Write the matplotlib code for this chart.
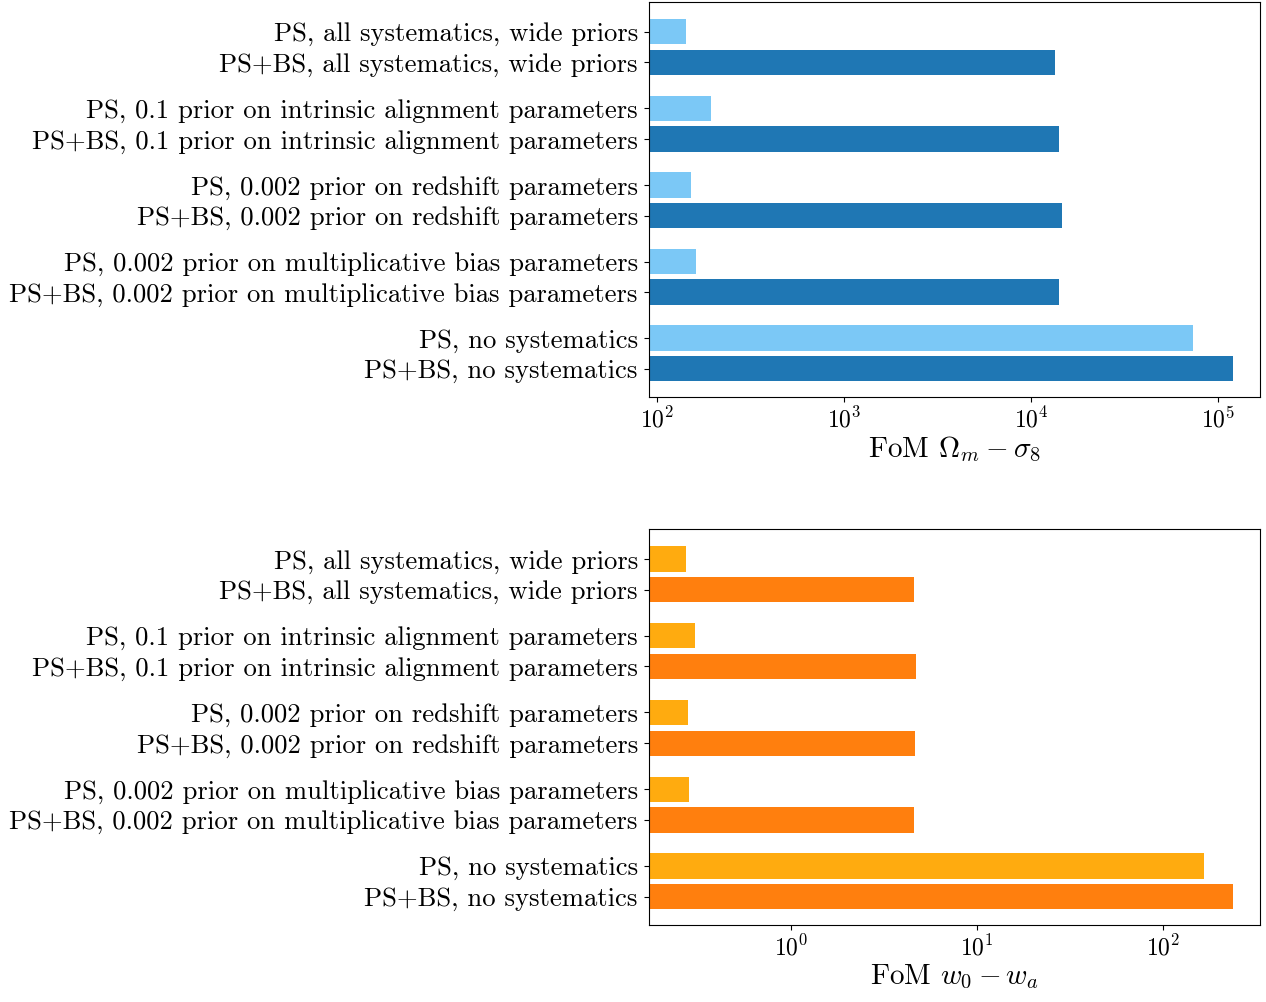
import matplotlib
matplotlib.use("Agg")
import matplotlib.pyplot as plt
import numpy as np

plt.rcParams.update({
    "font.family": "serif",
    "font.serif": ["cmr10"],
    "mathtext.fontset": "cm",
    "axes.formatter.use_mathtext": True,
    "font.size": 17,
})

# labels, top to bottom (PS line then PS+BS line for each case)
cases = [
    "all systematics, wide priors",
    "0.1 prior on intrinsic alignment parameters",
    "0.002 prior on redshift parameters",
    "0.002 prior on multiplicative bias parameters",
    "no systematics",
]

# FoM Omega_m - sigma_8
fom_om_s8_ps = [143, 195, 152, 162, 73400]
fom_om_s8_psbs = [13400, 14100, 14700, 14100, 120000]

# FoM w0 - wa
fom_w0_wa_ps = [0.272, 0.305, 0.279, 0.283, 166]
fom_w0_wa_psbs = [4.59, 4.70, 4.64, 4.59, 238]

pos_ps = np.arange(len(cases)) * 1.0
pos_psbs = pos_ps + 0.4
ticks = np.ravel(np.column_stack([pos_ps, pos_psbs]))
tick_labels = []
for c in cases:
    tick_labels += ["PS, " + c, "PS+BS, " + c]

fig = plt.figure(figsize=(12.66, 10.02), dpi=100)


def panel(rect, ps, psbs, c_ps, c_psbs, xlim, xlabel):
    ax = fig.add_axes(rect)
    ax.barh(pos_ps, ps, height=0.33, color=c_ps)
    ax.barh(pos_psbs, psbs, height=0.33, color=c_psbs)
    ax.set_xscale("log")
    ax.set_xlim(*xlim)
    ax.set_ylim(4.77, -0.39)
    ax.set_yticks(ticks)
    ax.set_yticklabels(tick_labels, fontsize=19.2)
    ax.tick_params(axis="y", pad=4.5)
    ax.xaxis.set_minor_locator(matplotlib.ticker.NullLocator())
    ax.set_xlabel(xlabel, fontsize=21, labelpad=2)
    return ax


panel([0.5126, 0.6038, 0.4827, 0.3942], fom_om_s8_ps, fom_om_s8_psbs,
      "#7bc8f6", "#1f77b4", (90.6, 168000), r"FoM $\Omega_m - \sigma_8$")
panel([0.5126, 0.0768, 0.4827, 0.3952], fom_w0_wa_ps, fom_w0_wa_psbs,
      "#ffab0f", "#ff7f0e", (0.172, 331), r"FoM $w_0 - w_a$")

fig.savefig("out.png", dpi=100)
